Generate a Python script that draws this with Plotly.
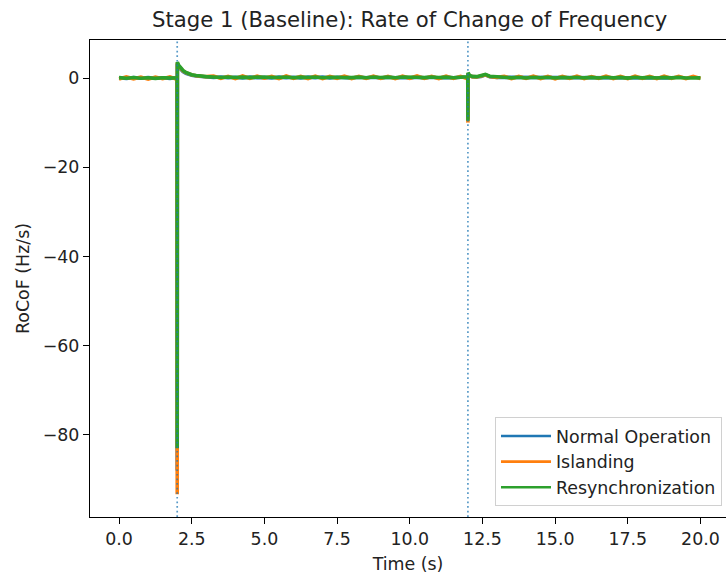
import plotly.graph_objects as go

# Sample times (s), shared by all three traces; denser around the two events
time_s = [
    0.0, 0.25, 0.5, 0.75, 1.0, 1.25, 1.5, 1.75, 1.95, 1.995,
    2.0,
    2.005, 2.02, 2.05, 2.1, 2.15, 2.2, 2.3, 2.4, 2.5, 2.65, 2.8, 3.0,
    3.25, 3.5, 3.75, 4.0, 4.25, 4.5, 4.75, 5.0, 5.25, 5.5, 5.75, 6.0,
    6.25, 6.5, 6.75, 7.0, 7.25, 7.5, 7.75, 8.0, 8.25, 8.5, 8.75, 9.0,
    9.25, 9.5, 9.75, 10.0, 10.25, 10.5, 10.75, 11.0, 11.25, 11.5, 11.75,
    11.95, 11.995,
    12.0,
    12.005, 12.05, 12.15, 12.3, 12.45, 12.6, 12.75, 13.0,
    13.25, 13.5, 13.75, 14.0, 14.25, 14.5, 14.75, 15.0, 15.25, 15.5,
    15.75, 16.0, 16.25, 16.5, 16.75, 17.0, 17.25, 17.5, 17.75, 18.0,
    18.25, 18.5, 18.75, 19.0, 19.25, 19.5, 19.75, 20.0,
]

# RoCoF (Hz/s) for each scenario
rocof_normal = [
    0.05, -0.1, 0.08, -0.06, 0.1, -0.05, 0.06, -0.1, 0.05, 0.0,
    -88.0,
    3.2, 2.9, 2.5, 2.1, 1.75, 1.45, 1.05, 0.8, 0.6, 0.45, 0.35, 0.25,
    0.1, 0.22, 0.05, 0.18, 0.02, 0.2, 0.06, 0.15, 0.0, 0.2, 0.05, 0.18,
    0.02, 0.2, 0.06, 0.22, 0.0, 0.16, 0.08, 0.02, 0.18, 0.05, 0.2, 0.0,
    0.18, 0.05, 0.14, 0.0, 0.18, 0.04, 0.16, 0.0, 0.15, 0.05, 0.18,
    0.05, 0.2,
    -9.3,
    1.0, 0.5, 0.3, 0.25, 0.35, 0.7, 0.3, 0.15,
    0.15, -0.02, 0.14, 0.0, 0.12, -0.04, 0.15, 0.0, 0.12, -0.04, 0.14, 0.0,
    0.12, -0.04, 0.1, 0.14, -0.02, 0.1, 0.12, 0.0, 0.12, -0.04, 0.1, 0.0,
]

rocof_islanding = [
    -0.22, 0.25, -0.18, 0.2, -0.26, 0.22, -0.15, 0.26, -0.2, 0.05,
    -93.3,
    3.4, 3.1, 2.7, 2.3, 1.95, 1.6, 1.2, 0.9, 0.7, 0.5, 0.4, 0.3,
    0.42, -0.1, 0.38, -0.15, 0.45, -0.08, 0.4, -0.05, 0.35, -0.14, 0.46, -0.1,
    0.36, -0.12, 0.42, -0.16, 0.35, -0.06, 0.44, -0.12, 0.38, -0.1, 0.4, -0.08,
    0.35, -0.14, 0.4, -0.06, 0.45, -0.1, 0.36, -0.12, 0.4, -0.08, 0.38,
    -0.1, 0.2,
    -10.0,
    1.0, 0.5, 0.3, 0.25, 0.4, 0.7, 0.35, 0.15,
    0.4, -0.16, 0.35, -0.1, 0.42, -0.12, 0.36, -0.18, 0.35, -0.08, 0.4, -0.16,
    0.32, -0.1, 0.44, -0.12, 0.35, -0.16, 0.4, -0.1, 0.35, -0.14, 0.42, -0.08,
    0.35, -0.12, 0.38, -0.1,
]

rocof_resync = [
    0.08, -0.06, 0.1, -0.04, 0.06, -0.08, 0.05, -0.03, 0.08, 0.0,
    -83.0,
    3.6, 3.3, 2.9, 2.4, 2.0, 1.7, 1.25, 0.95, 0.75, 0.55, 0.42, 0.32,
    0.24, 0.12, 0.22, 0.1, 0.2, 0.08, 0.22, 0.12, 0.2, 0.1, 0.22, 0.06,
    0.2, 0.1, 0.22, 0.06, 0.18, 0.1, 0.22, 0.08, 0.2, 0.06, 0.22, 0.1,
    0.2, 0.07, 0.22, 0.1, 0.18, 0.08, 0.22, 0.1, 0.2, 0.06, 0.18,
    0.1, 0.3,
    -9.6,
    1.2, 0.6, 0.35, 0.3, 0.45, 0.8, 0.4, 0.2,
    0.18, 0.04, 0.16, 0.02, 0.18, 0.05, 0.16, 0.0, 0.14, 0.06, 0.16, 0.02,
    0.14, 0.0, 0.16, 0.04, 0.14, -0.02, 0.16, 0.03, 0.14, 0.0, 0.15, 0.04,
    0.14, 0.0, 0.12, 0.04,
]

series_names = ["Normal Operation", "Islanding", "Resynchronization"]
series_values = [rocof_normal, rocof_islanding, rocof_resync]
series_colors = ["#1f77b4", "#ff7f0e", "#2ca02c"]

event_times = [2.0, 12.0]

x_ticks = [0.0, 2.5, 5.0, 7.5, 10.0, 12.5, 15.0, 17.5, 20.0]
y_ticks = [0, -20, -40, -60, -80]

FONT = "DejaVu Sans"
FS = 17.4

fig = go.Figure()

for name, vals, col in zip(series_names, series_values, series_colors):
    fig.add_trace(go.Scatter(
        x=time_s, y=vals, mode="lines", name=name, legendgroup=name,
        showlegend=False, line=dict(color=col, width=3.6),
    ))

# thin legend keys
for name, col in zip(series_names, series_colors):
    fig.add_trace(go.Scatter(
        x=[None], y=[None], mode="lines", name=name, legendgroup=name,
        line=dict(color=col, width=2.6),
    ))

for t in event_times:
    fig.add_vline(x=t, line=dict(color="rgba(31,119,180,0.75)", width=1.7,
                                 dash="1.7px,2.9px"))

axis_common = dict(
    showline=True, linecolor="black", linewidth=1.3,
    ticks="outside", ticklen=6, tickwidth=1.3, tickcolor="black",
    showgrid=False, zeroline=False,
    tickfont=dict(family=FONT, size=FS, color="#222"),
)

# the axes run a few pixels past the right edge of the page,
# so only the top frame line is mirrored
fig.update_layout(
    width=726, height=576,
    margin=dict(l=90, r=0, t=40, b=59),
    plot_bgcolor="white", paper_bgcolor="white",
    font=dict(family=FONT, color="#222"),
    title=dict(text="Stage 1 (Baseline): Rate of Change of Frequency",
               x=0.5644, xanchor="center", y=1 - 20 / 576, yanchor="middle",
               font=dict(family=FONT, size=21.2, color="#222")),
    xaxis=dict(range=[-1.0, 20.878], tickvals=x_ticks, mirror=True,
               ticktext=[f"{v:.1f}" for v in x_ticks],
               title=dict(text="Time (s)", standoff=9,
                          font=dict(family=FONT, size=FS)),
               **axis_common),
    yaxis=dict(range=[-98.4, 8.52], tickvals=y_ticks, mirror=False,
               ticktext=[("\u2212" + str(-v)) if v < 0 else str(v) for v in y_ticks],
               title=dict(text="RoCoF (Hz/s)", standoff=8,
                          font=dict(family=FONT, size=FS)),
               **axis_common),
    legend=dict(x=0.9937, y=0.0227, xanchor="right", yanchor="bottom",
                bgcolor="rgba(255,255,255,0.8)", bordercolor="#d0d0d0",
                borderwidth=1, font=dict(family=FONT, size=FS),
                tracegroupgap=0, itemwidth=50),
    showlegend=True,
)

fig.write_html("out.html")
